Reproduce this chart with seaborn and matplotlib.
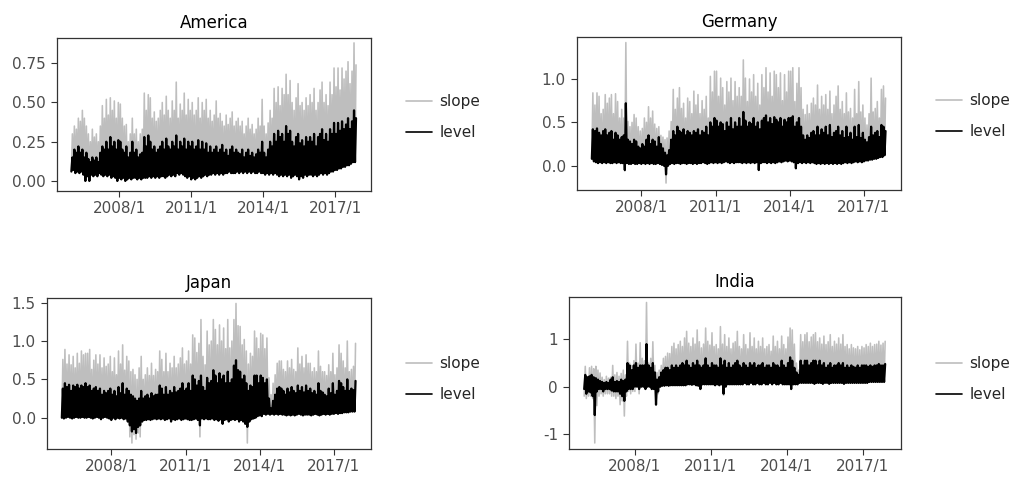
import numpy as np
import pandas as pd
import matplotlib
matplotlib.use("Agg")
import matplotlib.pyplot as plt
import seaborn as sns
from matplotlib.lines import Line2D

# monthly observations, 2006/1 ... 2017/11 (143 months)
START_YEAR = 2006
TICK_YEARS = [2008, 2011, 2014, 2017]
TICK_LABELS = ["2008/1", "2011/1", "2014/1", "2017/1"]
SERIES_LABELS = ["slope", "level"]
COUNTRIES = ["America", "Germany", "Japan", "India"]

# ---------------- America ----------------
america_slope_hi = [
    0.30, 0.35, 0.33, 0.40, 0.38, 0.45, 0.40, 0.35, 0.30, 0.25, 0.33, 0.28,
    0.30, 0.25, 0.35, 0.48, 0.40, 0.52, 0.42, 0.53, 0.45, 0.51, 0.40, 0.50,
    0.49, 0.40, 0.35, 0.36, 0.25, 0.30, 0.40, 0.30, 0.33, 0.25, 0.30, 0.33,
    0.56, 0.45, 0.55, 0.53, 0.40, 0.44, 0.38, 0.40, 0.45, 0.50, 0.42, 0.54,
    0.45, 0.40, 0.51, 0.45, 0.63, 0.40, 0.49, 0.45, 0.56, 0.42, 0.52, 0.45,
    0.50, 0.42, 0.45, 0.53, 0.40, 0.50, 0.45, 0.52, 0.40, 0.45, 0.38, 0.42,
    0.51, 0.40, 0.43, 0.38, 0.35, 0.42, 0.36, 0.40, 0.44, 0.35, 0.38, 0.40,
    0.35, 0.38, 0.30, 0.35, 0.40, 0.33, 0.36, 0.30, 0.33, 0.40, 0.35, 0.52,
    0.35, 0.30, 0.37, 0.45, 0.40, 0.59, 0.50, 0.60, 0.48, 0.59, 0.55, 0.68,
    0.55, 0.64, 0.50, 0.45, 0.53, 0.62, 0.48, 0.50, 0.45, 0.53, 0.48, 0.55,
    0.50, 0.59, 0.45, 0.50, 0.58, 0.63, 0.50, 0.55, 0.48, 0.63, 0.55, 0.72,
    0.60, 0.72, 0.58, 0.72, 0.65, 0.70, 0.76, 0.62, 0.70, 0.88, 0.74,
]
america_level_hi = [
    0.15, 0.20, 0.18, 0.22, 0.18, 0.20, 0.15, 0.18, 0.14, 0.12, 0.15, 0.13,
    0.15, 0.12, 0.18, 0.22, 0.20, 0.25, 0.20, 0.28, 0.22, 0.25, 0.20, 0.26,
    0.25, 0.20, 0.18, 0.22, 0.15, 0.18, 0.25, 0.18, 0.20, 0.15, 0.17, 0.18,
    0.28, 0.22, 0.29, 0.25, 0.20, 0.22, 0.18, 0.20, 0.22, 0.25, 0.20, 0.27,
    0.22, 0.20, 0.25, 0.22, 0.29, 0.20, 0.25, 0.22, 0.27, 0.20, 0.25, 0.22,
    0.25, 0.20, 0.22, 0.26, 0.20, 0.25, 0.20, 0.24, 0.18, 0.22, 0.18, 0.20,
    0.22, 0.18, 0.20, 0.23, 0.18, 0.20, 0.16, 0.20, 0.22, 0.18, 0.20, 0.18,
    0.17, 0.20, 0.15, 0.18, 0.20, 0.16, 0.18, 0.15, 0.17, 0.20, 0.18, 0.25,
    0.18, 0.15, 0.20, 0.25, 0.22, 0.30, 0.25, 0.32, 0.28, 0.30, 0.25, 0.35,
    0.30, 0.32, 0.25, 0.22, 0.28, 0.30, 0.24, 0.26, 0.22, 0.28, 0.25, 0.28,
    0.25, 0.30, 0.22, 0.28, 0.30, 0.33, 0.26, 0.30, 0.25, 0.33, 0.30, 0.37,
    0.30, 0.37, 0.32, 0.38, 0.33, 0.36, 0.40, 0.33, 0.38, 0.45, 0.40,
]
america_level_lo = [
    0.06, 0.07, 0.05, 0.06, 0.05, 0.06, 0.04, 0.00, 0.03, 0.00, 0.04, 0.03,
    0.04, 0.03, 0.05, 0.04, 0.03, 0.04, 0.03, 0.04, 0.02, 0.03, 0.02, 0.00,
    0.02, 0.01, 0.02, 0.00, 0.01, 0.02, 0.01, 0.02, 0.02, 0.01, 0.02, 0.01,
    0.02, 0.02, 0.02, 0.03, 0.02, 0.03, 0.02, 0.03, 0.02, 0.03, 0.03, 0.02,
    0.03, 0.04, 0.03, 0.04, 0.03, 0.05, 0.04, 0.05, 0.04, 0.03, 0.02, 0.03,
    0.01, 0.02, 0.01, 0.02, 0.03, 0.02, 0.03, 0.04, 0.03, 0.04, 0.04, 0.05,
    0.04, 0.05, 0.04, 0.05, 0.04, 0.05, 0.05, 0.06, 0.05, 0.05, 0.05, 0.06,
    0.05, 0.06, 0.05, 0.06, 0.05, 0.06, 0.05, 0.06, 0.05, 0.05, 0.06, 0.05,
    0.05, 0.04, 0.05, 0.04, 0.05, 0.04, 0.05, 0.04, 0.03, 0.04, 0.03, 0.04,
    0.03, 0.04, 0.02, 0.03, 0.04, 0.03, 0.01, 0.03, 0.02, 0.04, 0.03, 0.04,
    0.04, 0.03, 0.04, 0.03, 0.04, 0.05, 0.04, 0.05, 0.04, 0.05, 0.06, 0.06,
    0.07, 0.07, 0.08, 0.08, 0.09, 0.09, 0.10, 0.10, 0.11, 0.12, 0.12,
]
america_slope_dips = {}

# ---------------- Germany ----------------
germany_slope_hi = [
    0.84, 0.70, 0.84, 0.80, 0.60, 0.65, 0.82, 0.72, 0.78, 0.82, 0.60, 0.83,
    0.74, 0.55, 0.65, 0.55, 1.42, 0.51, 0.45, 0.50, 0.59, 0.55, 0.45, 0.40,
    0.43, 0.55, 0.50, 0.68, 0.55, 0.63, 0.48, 0.43, 0.45, 0.35, 0.33, 0.30,
    0.32, 0.40, 0.51, 0.88, 0.65, 0.78, 0.90, 0.66, 0.72, 0.55, 0.78, 0.74,
    0.60, 0.86, 0.70, 0.82, 0.60, 0.75, 0.65, 0.80, 0.55, 1.03, 0.85, 1.09,
    1.09, 0.80, 1.01, 0.90, 0.70, 0.97, 0.85, 1.01, 0.75, 0.97, 0.80, 0.90,
    0.80, 1.22, 1.01, 0.74, 1.00, 0.85, 1.05, 0.80, 0.95, 0.70, 1.05, 0.90,
    1.13, 0.85, 1.07, 0.80, 1.09, 1.05, 0.90, 1.07, 0.75, 1.05, 0.85, 1.09,
    1.09, 1.13, 0.74, 0.95, 1.13, 0.90, 0.65, 0.59, 0.70, 0.60, 0.72, 0.78,
    0.70, 0.93, 0.65, 0.80, 0.70, 0.82, 0.65, 0.86, 0.60, 0.70, 0.80, 0.92,
    0.65, 0.74, 0.60, 0.84, 0.62, 0.66, 0.55, 0.88, 0.60, 0.97, 0.62, 0.70,
    0.55, 0.47, 0.60, 1.01, 0.62, 0.66, 0.74, 0.55, 0.88, 0.92, 0.78,
]
germany_level_hi = [
    0.42, 0.40, 0.43, 0.38, 0.35, 0.40, 0.42, 0.35, 0.38, 0.40, 0.30, 0.38,
    0.35, 0.30, 0.33, 0.35, 0.72, 0.30, 0.28, 0.25, 0.30, 0.28, 0.22, 0.20,
    0.25, 0.22, 0.30, 0.35, 0.25, 0.30, 0.28, 0.22, 0.33, 0.25, 0.20, 0.15,
    0.12, 0.18, 0.30, 0.40, 0.35, 0.45, 0.40, 0.38, 0.42, 0.35, 0.40, 0.38,
    0.35, 0.40, 0.38, 0.42, 0.35, 0.40, 0.38, 0.45, 0.35, 0.50, 0.45, 0.55,
    0.52, 0.45, 0.50, 0.48, 0.40, 0.50, 0.45, 0.55, 0.42, 0.50, 0.45, 0.55,
    0.45, 0.62, 0.52, 0.45, 0.50, 0.48, 0.55, 0.45, 0.50, 0.42, 0.52, 0.55,
    0.58, 0.50, 0.55, 0.48, 0.56, 0.53, 0.50, 0.55, 0.45, 0.53, 0.50, 0.55,
    0.55, 0.57, 0.45, 0.50, 0.55, 0.45, 0.35, 0.30, 0.35, 0.32, 0.38, 0.40,
    0.35, 0.45, 0.35, 0.42, 0.38, 0.45, 0.35, 0.47, 0.33, 0.38, 0.40, 0.45,
    0.35, 0.40, 0.32, 0.45, 0.33, 0.38, 0.30, 0.45, 0.33, 0.47, 0.32, 0.38,
    0.30, 0.27, 0.33, 0.45, 0.35, 0.38, 0.40, 0.33, 0.47, 0.45, 0.40,
]
germany_level_lo = [
    0.08, 0.05, 0.04, 0.03, 0.04, 0.03, 0.04, 0.03, 0.04, 0.03, 0.03, 0.04,
    0.03, 0.04, 0.03, 0.03, -0.05, 0.03, 0.02, 0.02, 0.03, 0.02, 0.02, 0.03,
    0.02, 0.03, 0.02, 0.03, 0.02, 0.03, 0.02, 0.02, 0.03, 0.02, 0.01, 0.00,
    -0.10, 0.00, 0.02, 0.03, 0.02, 0.03, 0.03, 0.02, 0.03, 0.03, 0.02, 0.03,
    0.03, 0.02, 0.03, 0.02, 0.03, 0.03, 0.04, 0.03, 0.02, 0.03, 0.04, 0.03,
    0.04, 0.03, 0.04, 0.03, 0.04, 0.05, 0.04, 0.03, 0.04, 0.03, 0.04, 0.04,
    0.04, 0.03, 0.04, 0.03, 0.04, 0.03, 0.04, 0.03, 0.04, -0.05, 0.03, 0.04,
    0.04, 0.03, 0.04, 0.03, 0.04, 0.03, 0.04, 0.05, 0.04, 0.05, 0.06, 0.05,
    0.06, 0.05, 0.04, -0.03, 0.03, 0.04, 0.03, 0.04, 0.03, 0.04, 0.03, 0.04,
    0.03, 0.02, 0.03, 0.02, 0.03, 0.02, 0.03, 0.02, 0.03, 0.02, 0.03, 0.02,
    0.03, 0.02, 0.03, 0.04, 0.03, 0.04, 0.03, 0.04, 0.05, 0.04, 0.05, 0.04,
    0.05, 0.06, 0.06, 0.07, 0.07, 0.08, 0.08, 0.09, 0.10, 0.10, 0.12,
]
germany_slope_dips = {36: -0.20, 16: -0.06}

# ---------------- Japan ----------------
japan_slope_hi = [
    0.76, 0.89, 0.70, 0.82, 0.69, 0.80, 0.65, 0.84, 0.71, 0.87, 0.82, 0.84,
    0.84, 0.89, 0.63, 0.75, 0.82, 0.70, 0.82, 0.65, 0.78, 0.67, 0.70, 0.80,
    0.60, 0.78, 0.56, 0.87, 0.70, 0.95, 0.62, 0.80, 0.74, 0.60, 0.63, 0.56,
    0.50, 0.65, 0.80, 0.50, 0.56, 0.65, 0.55, 0.71, 0.55, 0.63, 0.60, 0.87,
    0.76, 0.60, 0.84, 0.60, 0.71, 0.65, 0.80, 0.65, 0.70, 0.78, 0.91, 0.70,
    0.74, 0.87, 0.70, 1.08, 1.04, 0.85, 0.97, 1.28, 0.80, 0.69, 1.13, 0.95,
    1.00, 1.28, 1.15, 0.95, 1.21, 1.00, 1.17, 0.90, 1.28, 0.91, 1.00, 1.28,
    1.49, 1.20, 1.19, 0.95, 1.02, 0.87, 0.70, 0.84, 0.80, 1.13, 1.04, 0.90,
    1.10, 1.08, 0.90, 1.04, 0.52, 0.30, 0.45, 0.56, 0.71, 0.74, 0.74, 0.63,
    0.60, 0.74, 0.65, 0.76, 0.63, 0.60, 0.91, 0.70, 0.80, 0.65, 0.82, 0.71,
    0.71, 0.60, 0.65, 0.60, 0.87, 0.67, 0.60, 0.60, 0.55, 0.69, 0.60, 0.84,
    0.56, 0.65, 0.95, 0.84, 0.74, 0.65, 1.00, 0.60, 0.63, 0.67, 0.97,
]
japan_level_hi = [
    0.38, 0.45, 0.40, 0.43, 0.35, 0.42, 0.40, 0.43, 0.38, 0.42, 0.40, 0.45,
    0.40, 0.42, 0.35, 0.38, 0.40, 0.35, 0.38, 0.30, 0.35, 0.32, 0.35, 0.38,
    0.30, 0.35, 0.28, 0.40, 0.32, 0.45, 0.30, 0.38, 0.35, 0.30, 0.28, 0.25,
    0.22, 0.25, 0.35, 0.25, 0.28, 0.30, 0.25, 0.32, 0.28, 0.30, 0.30, 0.42,
    0.38, 0.30, 0.40, 0.30, 0.35, 0.32, 0.40, 0.33, 0.35, 0.38, 0.45, 0.35,
    0.38, 0.45, 0.35, 0.55, 0.50, 0.42, 0.48, 0.55, 0.40, 0.35, 0.52, 0.45,
    0.48, 0.62, 0.55, 0.45, 0.58, 0.50, 0.55, 0.45, 0.60, 0.45, 0.50, 0.68,
    0.75, 0.62, 0.60, 0.50, 0.55, 0.45, 0.35, 0.42, 0.40, 0.55, 0.55, 0.45,
    0.55, 0.52, 0.45, 0.50, 0.25, 0.12, 0.22, 0.30, 0.38, 0.40, 0.38, 0.35,
    0.30, 0.38, 0.33, 0.40, 0.35, 0.32, 0.42, 0.35, 0.40, 0.33, 0.42, 0.35,
    0.38, 0.32, 0.35, 0.30, 0.45, 0.35, 0.33, 0.30, 0.28, 0.38, 0.32, 0.45,
    0.30, 0.35, 0.48, 0.45, 0.40, 0.35, 0.50, 0.35, 0.38, 0.36, 0.48,
]
japan_level_lo = [
    0.00, -0.01, 0.00, 0.01, 0.00, -0.01, 0.00, 0.01, 0.00, 0.00, 0.01, 0.00,
    0.00, 0.01, 0.00, -0.01, 0.00, 0.01, 0.00, -0.02, 0.00, 0.01, 0.00, -0.01,
    -0.03, 0.00, -0.02, 0.00, -0.01, 0.00, -0.02, -0.01, -0.05, -0.10, -0.18, -0.15,
    -0.20, -0.12, -0.10, -0.05, -0.03, -0.03, -0.02, -0.03, -0.02, -0.01, -0.02, -0.01,
    -0.02, -0.01, -0.03, -0.02, -0.01, -0.05, -0.02, -0.03, -0.02, -0.01, -0.03, -0.02,
    -0.01, -0.02, -0.03, -0.03, -0.02, -0.01, -0.03, -0.10, -0.01, -0.02, -0.01, -0.02,
    -0.02, -0.01, -0.03, -0.02, -0.04, -0.02, -0.08, -0.03, -0.02, -0.05, -0.03, -0.02,
    -0.03, -0.02, -0.05, -0.03, -0.05, -0.08, -0.12, -0.05, -0.02, -0.01, 0.00, 0.02,
    0.03, 0.02, 0.05, 0.04, 0.05, 0.04, 0.05, 0.04, 0.05, 0.04, 0.05, 0.04,
    0.04, 0.03, 0.04, 0.03, 0.04, 0.03, 0.04, 0.05, 0.04, 0.03, 0.04, 0.04,
    0.04, 0.03, 0.04, 0.05, 0.04, 0.03, 0.04, 0.05, 0.04, 0.05, 0.04, 0.05,
    0.05, 0.06, 0.05, 0.06, 0.06, 0.07, 0.07, 0.07, 0.08, 0.08, 0.08,
]
japan_slope_dips = {33: -0.25, 34: -0.33, 35: -0.22, 36: -0.28, 37: -0.20,
                    38: -0.25, 67: -0.25, 90: -0.33}

# ---------------- India ----------------
india_slope_hi = [
    0.43, 0.15, 0.40, 0.43, 0.38, 0.43, 0.35, 0.29, 0.20, 0.15, 0.22, 0.18,
    0.20, 0.45, 0.25, 0.30, 0.22, 0.28, 0.35, 0.25, 0.96, 0.50, 0.45, 0.55,
    0.90, 0.50, 0.93, 0.60, 0.55, 1.78, 0.50, 0.60, 0.95, 0.45, 0.30, 0.35,
    0.45, 0.60, 0.64, 0.71, 0.70, 0.85, 0.92, 0.80, 0.89, 0.96, 0.85, 1.03,
    1.17, 0.92, 0.85, 1.03, 0.90, 1.20, 0.95, 0.82, 0.90, 1.24, 0.96, 0.88,
    1.14, 0.85, 0.89, 0.80, 1.27, 0.90, 1.10, 0.85, 1.03, 0.80, 0.92, 0.95,
    1.17, 0.85, 0.80, 1.10, 0.89, 0.80, 1.14, 0.85, 1.03, 0.80, 0.96, 0.85,
    1.03, 0.80, 0.85, 0.89, 0.75, 1.07, 0.85, 0.96, 0.80, 1.07, 0.89, 0.80,
    1.05, 1.24, 1.20, 0.90, 0.50, 0.35, 1.10, 0.95, 1.10, 1.14, 0.95, 1.05,
    1.10, 1.14, 0.95, 1.03, 0.90, 1.07, 0.89, 0.95, 1.10, 0.85, 0.96, 0.90,
    1.03, 0.90, 1.10, 0.85, 0.89, 0.80, 0.89, 0.82, 0.80, 0.85, 0.78, 0.85,
    0.82, 0.89, 0.85, 0.92, 0.85, 0.89, 0.90, 0.96, 0.88, 0.92, 0.96,
]
india_level_hi = [
    0.25, 0.20, 0.22, 0.25, 0.20, 0.18, 0.15, 0.12, 0.10, 0.08, 0.10, 0.08,
    0.15, 0.20, 0.10, 0.12, 0.10, 0.15, 0.12, 0.15, 0.50, 0.45, 0.35, 0.45,
    0.50, 0.40, 0.45, 0.45, 0.45, 0.90, 0.45, 0.40, 0.50, 0.30, 0.15, 0.20,
    0.30, 0.35, 0.40, 0.40, 0.35, 0.45, 0.40, 0.45, 0.40, 0.45, 0.50, 0.45,
    0.55, 0.45, 0.40, 0.50, 0.45, 0.55, 0.45, 0.40, 0.45, 0.60, 0.45, 0.40,
    0.50, 0.45, 0.45, 0.40, 0.60, 0.45, 0.55, 0.40, 0.50, 0.40, 0.45, 0.50,
    0.55, 0.45, 0.40, 0.50, 0.45, 0.40, 0.50, 0.45, 0.50, 0.40, 0.45, 0.45,
    0.50, 0.40, 0.45, 0.45, 0.40, 0.50, 0.45, 0.45, 0.40, 0.55, 0.45, 0.40,
    0.50, 0.62, 0.55, 0.40, 0.30, 0.25, 0.55, 0.45, 0.55, 0.55, 0.45, 0.50,
    0.55, 0.55, 0.45, 0.55, 0.45, 0.50, 0.40, 0.45, 0.50, 0.40, 0.45, 0.45,
    0.50, 0.45, 0.50, 0.40, 0.45, 0.40, 0.45, 0.42, 0.40, 0.45, 0.40, 0.45,
    0.45, 0.45, 0.42, 0.45, 0.42, 0.45, 0.45, 0.48, 0.45, 0.45, 0.48,
]
india_level_lo = [
    -0.05, -0.15, -0.10, -0.12, -0.20, -0.60, -0.10, -0.05, -0.05, -0.10, -0.05, -0.05,
    -0.05, -0.08, -0.10, -0.10, -0.10, -0.15, -0.20, -0.30, -0.10, -0.05, -0.05, -0.05,
    0.00, 0.00, -0.05, 0.00, 0.00, -0.05, 0.00, 0.00, -0.05, -0.05, -0.38, -0.10,
    0.00, 0.02, 0.02, 0.03, 0.02, 0.03, 0.03, 0.03, 0.03, 0.03, 0.03, 0.03,
    0.03, 0.05, 0.05, 0.04, 0.05, 0.03, 0.02, -0.05, 0.05, 0.05, 0.05, 0.05,
    0.05, 0.05, 0.03, 0.05, 0.03, 0.05, -0.15, 0.00, 0.05, 0.05, 0.05, 0.05,
    0.05, 0.05, 0.05, 0.05, 0.08, 0.05, 0.05, 0.08, 0.05, 0.05, 0.08, 0.05,
    0.05, 0.08, 0.05, 0.05, 0.08, 0.05, 0.08, 0.05, 0.05, 0.08, 0.05, 0.05,
    0.05, 0.05, -0.05, 0.05, 0.05, 0.05, 0.08, 0.08, 0.08, 0.08, 0.08, 0.08,
    0.08, 0.06, 0.08, 0.08, 0.08, 0.06, 0.08, 0.08, 0.06, 0.08, 0.08, 0.08,
    0.08, 0.08, 0.08, 0.06, 0.08, 0.08, 0.08, 0.08, 0.08, 0.08, 0.08, 0.08,
    0.08, 0.08, 0.08, 0.10, 0.10, 0.10, 0.10, 0.10, 0.10, 0.10, 0.10,
]
india_slope_dips = {0: -0.20, 1: -0.25, 2: -0.20, 3: -0.20, 4: -0.25, 5: -1.19,
                    6: -0.40, 7: -0.20, 8: -0.15, 9: -0.20, 10: -0.15, 11: -0.15,
                    12: -0.15, 13: -0.20, 14: -0.20, 15: -0.25, 16: -0.20, 17: -0.38,
                    18: -0.30, 19: -0.62, 20: -0.20, 21: -0.10, 22: -0.15, 23: -0.10,
                    24: -0.10, 26: -0.15, 34: -0.38, 35: -0.15, 66: -0.18}

# ---------------- layout (figure pixels) ----------------
W, H = 1019, 482
SLOPE_COLOR = "#BEBEBE"
LEVEL_COLOR = "#000000"

panels = {
    "America": dict(box=(57, 38, 371, 191), ylim=(-0.064, 0.911),
                    yticks=[0, 0.25, 0.5, 0.75], ylabels=["0.00", "0.25", "0.50", "0.75"],
                    legend_y=0.484,
                    data=(america_slope_hi, america_level_hi, america_level_lo, america_slope_dips)),
    "Germany": dict(box=(577, 37, 901, 190), ylim=(-0.280, 1.484),
                    yticks=[0, 0.5, 1.0], ylabels=["0.0", "0.5", "1.0"],
                    legend_y=0.484,
                    data=(germany_slope_hi, germany_level_hi, germany_level_lo, germany_slope_dips)),
    "Japan": dict(box=(47, 298, 371, 449), ylim=(-0.408, 1.561),
                  yticks=[0, 0.5, 1.0, 1.5], ylabels=["0.0", "0.5", "1.0", "1.5"],
                  legend_y=0.464,
                  data=(japan_slope_hi, japan_level_hi, japan_level_lo, japan_slope_dips)),
    "India": dict(box=(569, 297, 901, 449), ylim=(-1.317, 1.896),
                  yticks=[-1, 0, 1], ylabels=["-1", "0", "1"],
                  legend_y=0.46,
                  data=(india_slope_hi, india_level_hi, india_level_lo, india_slope_dips)),
}


def spikes_frame(lo, hi):
    """Each month: low value at month start, high value half a month later."""
    n = len(hi)
    t = START_YEAR + np.arange(n) / 12.0
    xs = np.column_stack([t, t + 1.0 / 24.0]).ravel()
    ys = np.column_stack([np.asarray(lo, float), np.asarray(hi, float)]).ravel()
    return pd.DataFrame({"x": xs, "y": ys})


sns.set_theme(style="white")
plt.rcParams["font.family"] = ["DejaVu Sans"]

fig = plt.figure(figsize=(W / 100, H / 100), dpi=100)

for name in COUNTRIES:
    p = panels[name]
    x0, y0, x1, y1 = p["box"]
    ax = fig.add_axes([x0 / W, 1 - y1 / H, (x1 - x0) / W, (y1 - y0) / H])
    s_hi, l_hi, l_lo, dips = p["data"]
    assert len(s_hi) == len(l_hi) == len(l_lo) == 143, name
    s_lo = list(l_lo)
    for k, v in dips.items():
        s_lo[k] = v

    sns.lineplot(data=spikes_frame(s_lo, s_hi), x="x", y="y", sort=False,
                 estimator=None, color=SLOPE_COLOR, lw=1.15, ax=ax)
    sns.lineplot(data=spikes_frame(l_lo, l_hi), x="x", y="y", sort=False,
                 estimator=None, color=LEVEL_COLOR, lw=1.6, ax=ax)

    ax.set_xlim(2005.4, 2018.5)
    ax.set_ylim(*p["ylim"])
    ax.set_xticks(TICK_YEARS)
    ax.set_xticklabels(TICK_LABELS)
    ax.set_yticks(p["yticks"])
    ax.set_yticklabels(p["ylabels"])
    ax.set_xlabel("")
    ax.set_ylabel("")
    ax.set_title(name, fontsize=12, color="black", pad=7)
    for sp in ax.spines.values():
        sp.set_visible(True)
        sp.set_color("#333333")
        sp.set_linewidth(0.9)
    ax.tick_params(axis="both", which="major", direction="out", length=4,
                   width=0.8, color="#333333", labelsize=11, labelcolor="#4D4D4D",
                   bottom=True, left=True, pad=3)
    ax.tick_params(axis="y", pad=4)
    ax.grid(False)

    handles = [Line2D([], [], color=SLOPE_COLOR, lw=1.2),
               Line2D([], [], color=LEVEL_COLOR, lw=1.2)]
    bx = (x1 + 35 - x0) / (x1 - x0)
    ax.legend(handles, SERIES_LABELS, loc="center left",
              bbox_to_anchor=(bx, p["legend_y"]), frameon=False, fontsize=11,
              handlelength=1.7, handletextpad=0.5, labelspacing=1.05,
              borderpad=0, borderaxespad=0)

fig.savefig("out.png", dpi=100, facecolor="white")
